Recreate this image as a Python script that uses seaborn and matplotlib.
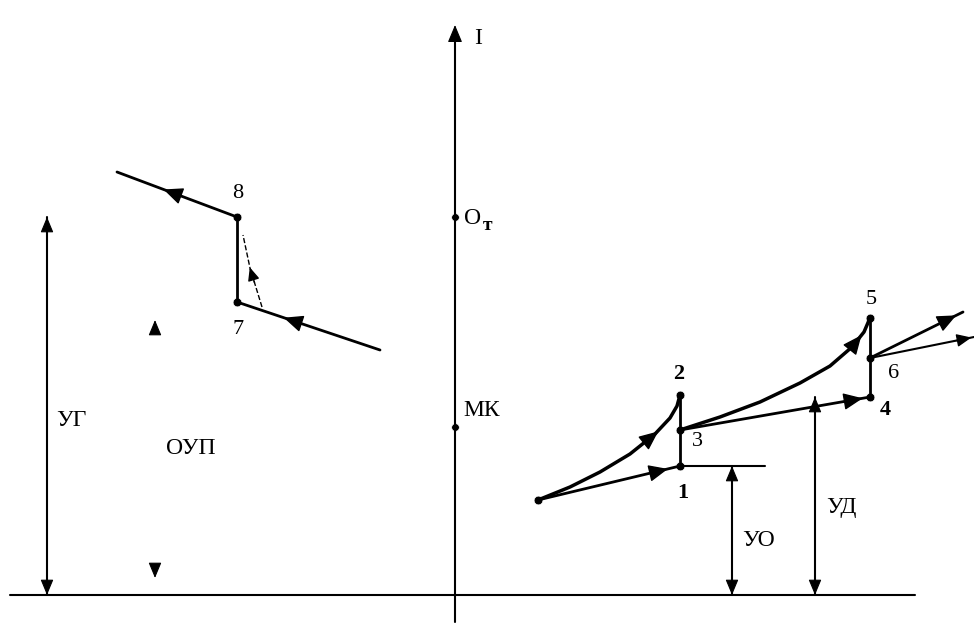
"""Schematic: current-regulation phase diagram (points 1..8, УГ/ОУП/УО/УД levels)."""
import matplotlib
matplotlib.use("Agg")
import matplotlib.pyplot as plt
import numpy as np
import pandas as pd
import seaborn as sns

# picture coordinates (pixels, y grows downwards)
AXIS_Y = 595
AXIS_X = 455
I_TOP = 25
OT_Y = 217
MK_Y = 427

# left branch: 8 -> 7 region
left_upper_x = [117, 237]
left_upper_y = [172, 217]
left_lower_x = [237, 380]
left_lower_y = [302, 350]
p8 = (237, 217)
p7 = (237, 302)
dash_x = [262, 250, 243]
dash_y = [307, 268, 235]

# right branch
start = (538, 500)
curve_a_x = [538, 570, 600, 630, 655, 670, 677, 680]
curve_a_y = [500, 487, 472, 454, 434, 418, 406, 395]
line_b_x = [538, 680]
line_b_y = [500, 466]
p1 = (680, 466)
p2 = (680, 395)
p3 = (680, 430)
curve_c_x = [680, 720, 760, 800, 830, 852, 864, 870]
curve_c_y = [430, 417, 402, 383, 366, 347, 332, 318]
line_d_x = [680, 870]
line_d_y = [430, 397]
p4 = (870, 397)
p5 = (870, 318)
p6 = (870, 358)
out_e_x = [870, 963]
out_e_y = [358, 312]
out_f_x = [870, 974]
out_f_y = [358, 337]
uo_line_x = [680, 765]
uo_line_y = [466, 466]

# level dimension lines: (x, top, bottom)
ug_dim = (47, 217, 595)
oup_dim = (155, 320, 578)
uo_dim = (732, 466, 595)
ud_dim = (815, 397, 595)

point_labels = ["8", "7", "2", "3", "1", "4", "5", "6"]
label_pos_x = [238, 238, 679, 697, 683, 885, 871, 894]
label_pos_y = [194, 330, 374, 442, 493, 410, 300, 373]

INK = "black"


def arrow_on(ax, xs, ys, frac, size=24, reverse=False):
    """Filled arrowhead placed at fraction `frac` along a polyline."""
    xs = np.asarray(xs, float)
    ys = np.asarray(ys, float)
    seg = np.hypot(np.diff(xs), np.diff(ys))
    cum = np.concatenate([[0], np.cumsum(seg)])
    d = frac * cum[-1]
    i = min(np.searchsorted(cum, d) - 1, len(seg) - 1)
    i = max(i, 0)
    t = (d - cum[i]) / seg[i]
    px = xs[i] + t * (xs[i + 1] - xs[i])
    py = ys[i] + t * (ys[i + 1] - ys[i])
    ux = (xs[i + 1] - xs[i]) / seg[i]
    uy = (ys[i + 1] - ys[i]) / seg[i]
    if reverse:
        ux, uy = -ux, -uy
    ax.annotate("", xy=(px + 8 * ux, py + 8 * uy), xytext=(px - 8 * ux, py - 8 * uy),
                arrowprops=dict(arrowstyle="-|>,head_length=0.5,head_width=0.22",
                                color=INK, lw=1.0,
                                mutation_scale=size, shrinkA=0, shrinkB=0))


def path(ax, xs, ys, lw=2.0, ls="-"):
    df = pd.DataFrame({"x": xs, "y": ys})
    sns.lineplot(data=df, x="x", y="y", sort=False, estimator=None,
                 color=INK, lw=lw, linestyle=ls, ax=ax)


def head(ax, x, y_from, y_to, size=16):
    ax.annotate("", xy=(x, y_to), xytext=(x, y_from),
                arrowprops=dict(arrowstyle="-|>,head_length=0.6,head_width=0.25",
                                color=INK, lw=0.8,
                                mutation_scale=size, shrinkA=0, shrinkB=0))


def dim(ax, x, top, bottom):
    ax.plot([x, x], [top, bottom], color=INK, lw=1.5)
    head(ax, x, top + 14, top)
    head(ax, x, bottom - 14, bottom)


sns.set_theme(style="white")
plt.rcParams["font.family"] = ["Liberation Serif", "DejaVu Serif"]
plt.rcParams["text.color"] = INK

fig = plt.figure(figsize=(9.74, 6.23), dpi=100)
ax = fig.add_axes([0, 0, 1, 1])
ax.set_xlim(0, 974)
ax.set_ylim(623, 0)
ax.axis("off")

# coordinate axes
path(ax, [10, 915], [AXIS_Y, AXIS_Y], lw=1.5)
path(ax, [AXIS_X, AXIS_X], [622, I_TOP + 10], lw=1.5)
head(ax, AXIS_X, I_TOP + 22, I_TOP, size=18)
ax.text(478, 38, "I", fontsize=17, ha="center", va="center")
sns.scatterplot(x=[AXIS_X, AXIS_X], y=[OT_Y, MK_Y], color=INK, s=30, ax=ax)
ax.text(464, 218, "О", fontsize=17, ha="left", va="center")
ax.text(483, 225, "т", fontsize=14, ha="left", va="center", fontweight="bold")
ax.text(463, 410, "МК", fontsize=17, ha="left", va="center")

# left branch
path(ax, left_upper_x, left_upper_y)
arrow_on(ax, left_upper_x, left_upper_y, 0.45, reverse=True)
path(ax, [p8[0], p7[0]], [p8[1], p7[1]])
path(ax, left_lower_x, left_lower_y)
arrow_on(ax, left_lower_x, left_lower_y, 0.38, reverse=True)
path(ax, dash_x, dash_y, lw=1.0, ls="--")
arrow_on(ax, dash_x, dash_y, 0.45, size=16)

# right branch
path(ax, curve_a_x, curve_a_y, lw=2.5)
arrow_on(ax, curve_a_x, curve_a_y, 0.72)
path(ax, line_b_x, line_b_y)
arrow_on(ax, line_b_x, line_b_y, 0.86)
path(ax, [p1[0], p2[0]], [p1[1], p2[1]])
path(ax, uo_line_x, uo_line_y, lw=1.5)
path(ax, curve_c_x, curve_c_y, lw=2.5)
arrow_on(ax, curve_c_x, curve_c_y, 0.88)
path(ax, line_d_x, line_d_y)
arrow_on(ax, line_d_x, line_d_y, 0.92)
path(ax, [p4[0], p5[0]], [p4[1], p5[1]])
path(ax, out_e_x, out_e_y)
arrow_on(ax, out_e_x, out_e_y, 0.85)
path(ax, out_f_x, out_f_y, lw=1.5)
arrow_on(ax, out_f_x, out_f_y, 0.9, size=18)

pts = [p8, p7, p2, p3, p1, p4, p5, p6, start]
sns.scatterplot(x=[p[0] for p in pts], y=[p[1] for p in pts],
                color=INK, s=40, ax=ax)

for lab, lx, ly in zip(point_labels, label_pos_x, label_pos_y):
    ax.text(lx, ly, lab, fontsize=16, ha="center", va="center",
            fontweight="bold" if lab in ("1", "4", "2") else "normal")

# level dimensions
for d in (ug_dim, uo_dim, ud_dim):
    dim(ax, *d)
head(ax, oup_dim[0], oup_dim[1] + 12, oup_dim[1])
head(ax, oup_dim[0], oup_dim[2] - 12, oup_dim[2])

ax.text(56, 420, "УГ", fontsize=17, ha="left", va="center")
ax.text(166, 448, "ОУП", fontsize=17, ha="left", va="center")
ax.text(742, 540, "УО", fontsize=17, ha="left", va="center")
ax.text(826, 508, "УД", fontsize=17, ha="left", va="center")

fig.savefig("out.png", dpi=100)
